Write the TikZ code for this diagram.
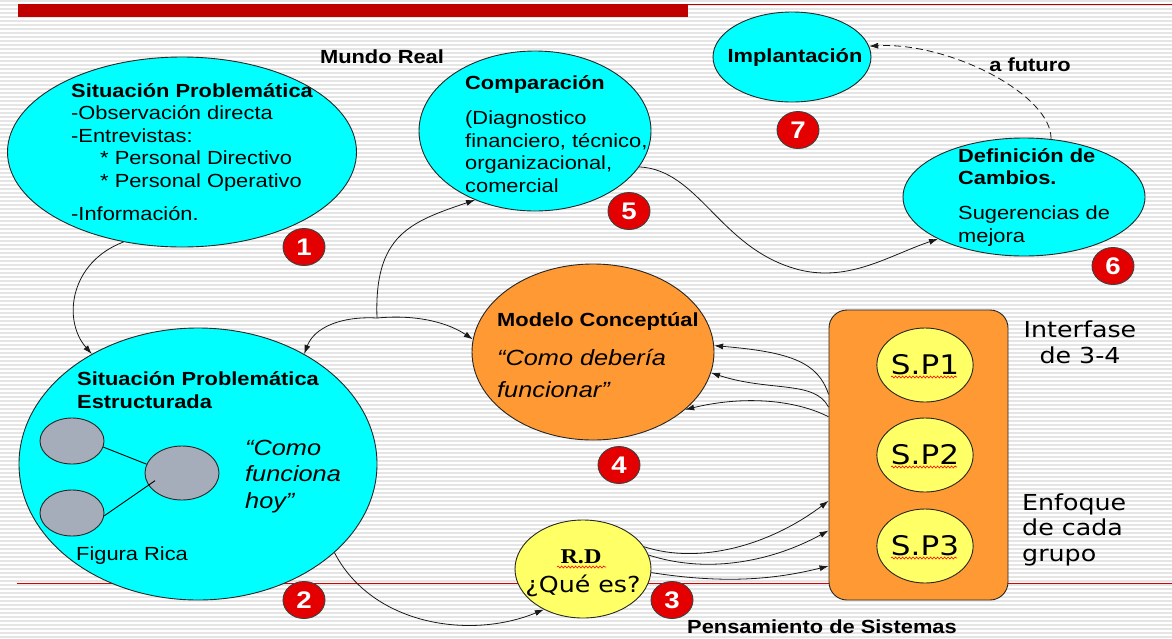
\documentclass[tikz,border=0pt]{standalone}
\usepackage{fontspec}
\setmainfont{Liberation Sans}[FakeStretch=1.15]
\newfontfamily\verdfont{DejaVu Sans}[FakeStretch=1.15]
\newfontfamily\romfont{Liberation Serif}[FakeStretch=1.15]
\usepackage{tikz}
\usetikzlibrary{shapes.geometric,arrows.meta,decorations.pathmorphing}

\definecolor{slidered}{RGB}{192,0,0}
\definecolor{aqua}{RGB}{0,255,255}
\definecolor{tangerine}{RGB}{255,153,51}
\definecolor{paleyellow}{RGB}{255,255,102}
\definecolor{slate}{RGB}{166,173,186}
\definecolor{ballred}{RGB}{228,0,0}

\begin{document}
\begin{tikzpicture}[x=1pt, y=-1pt, >={Latex[length=9pt,width=6pt]},
    blob/.style={ellipse, draw=black!85, line width=0.9pt, inner sep=0pt},
    num/.style={ellipse, draw=black!75, line width=0.9pt, fill=ballred, minimum width=42pt, minimum height=37pt, inner sep=0pt, text=white, font=\bfseries\fontsize{24}{24}\selectfont},
    body/.style={inner sep=0pt, align=left, font=\fontsize{19}{22.5}\selectfont},
    head/.style={inner sep=0pt, align=left, font=\bfseries\fontsize{19}{22.5}\selectfont},
    quote/.style={inner sep=0pt, align=left, font=\itshape\fontsize{22}{26.5}\selectfont},
    verd/.style={inner sep=0pt, align=left, font=\verdfont\fontsize{22}{25.5}\selectfont},
    link/.style={->, line width=0.8pt, black!90},
    spell/.style={decorate, decoration={snake, amplitude=1pt, segment length=3.5pt}, draw=red, line width=0.6pt}]
    \useasboundingbox (0,0) rectangle (1172,638);
    % lined paper and slide rules
    \fill[white] (0,0) rectangle (1172,638);
    \foreach \y in {1,5,...,637}
        \draw[gray!20, line width=1.2pt] (0,\y) -- (1172,\y);
    \fill[slidered] (18,4) rectangle (688,17);
    \draw[slidered, line width=1pt] (688,4.5) -- (1172,4.5);
    \draw[red!85!black, line width=0.8pt] (17,583) -- (1172,583);

    % stages
    \node[blob, fill=aqua, minimum width=349pt, minimum height=190pt] (prob) at (182,152) {};
    \node[blob, fill=aqua, minimum width=232pt, minimum height=160pt] (comp) at (535,131) {};
    \node[blob, fill=aqua, minimum width=158pt, minimum height=90pt] (impl) at (792,57) {};
    \node[blob, fill=aqua, minimum width=242pt, minimum height=118pt] (defc) at (1024,197) {};
    \node[blob, fill=tangerine, minimum width=242pt, minimum height=176pt] (model) at (593,352) {};
    \node[blob, fill=aqua, minimum width=358pt, minimum height=272pt] (estr) at (198,464) {};
    \node[blob, fill=paleyellow, minimum width=136pt, minimum height=98pt] (rd) at (583,569) {};
    \node[draw=black!85, line width=0.9pt, fill=tangerine, rounded corners=18pt, minimum width=179pt, minimum height=290pt] (grp) at (918.5,455) {};
    \foreach \k/\y in {1/365,2/455,3/546} {
        \node[blob, fill=paleyellow, minimum width=84pt, minimum height=74pt, font=\verdfont\fontsize{27}{27}\selectfont] (sp\k) at (925,\y) {S.P\k};
        \draw[spell] (891,\y+12) -- (957,\y+12);
    }

    % rich picture
    \node[blob, fill=slate, minimum width=64pt, minimum height=46pt] (g1) at (72,441) {};
    \node[blob, fill=slate, minimum width=64pt, minimum height=46pt] (g2) at (72,513) {};
    \node[blob, fill=slate, minimum width=74pt, minimum height=54pt] (g3) at (182,473) {};
    \draw[line width=0.9pt] (g1.349) -- (g3.166);
    \draw[line width=0.9pt, shorten >=-8pt] (g2.355) -- (g3.200);

    % connectors
    \coordinate (hub) at (377,318);
    \draw[link] (prob.237) .. controls (70,262) and (62,320) .. (estr.134);
    \draw[link] (hub) .. controls (374,235) and (410,222) .. (comp.229);
    \draw[link] (hub) .. controls (340,316) and (314,328) .. (estr.46);
    \draw[link] (hub) .. controls (420,314) and (450,324) .. (model.174);
    \draw[link] (comp.341) .. controls (700,170) and (720,250) .. (800,270) .. controls (850,282) and (890,255) .. (defc.206);
    \draw[link, dash pattern=on 7pt off 4pt] (defc.65) .. controls (1052,95) and (950,42) .. (impl.8);
    \draw[link] (estr.327) .. controls (372,625) and (470,640) .. (rd.226);
    \draw[link] (grp.146) .. controls (818,362) and (790,352) .. (model.3);
    \draw[link] (grp.152) .. controls (815,380) and (770,392) .. (model.350);
    \draw[link] (grp.157) .. controls (800,402) and (750,394) .. (model.328);
    \draw[link] (rd.20) .. controls (700,565) and (770,545) .. (grp.207);
    \draw[link] (rd.12) .. controls (710,575) and (775,560) .. (grp.220);
    \draw[link] (rd.357) .. controls (730,585) and (780,578) .. (grp.231);

    % step numbers
    \foreach \k/\x/\y in {1/304/247,2/304/600,3/672/600,4/619/465,5/629/211,6/1113/266,7/798/130}
        \node[num] (n\k) at (\x,\y) {\k};

    % texts (multi-line nodes sit on their last baseline)
    \node[head, anchor=base] (world) at (382,63) {Mundo Real};
    \node[body, anchor=base west] (probtxt) at (71,220) {\textbf{Situación Problemática}\\-Observación directa\\-Entrevistas:\\\hspace*{29pt}* Personal Directivo\\\hspace*{29pt}* Personal Operativo\\[10.5pt]-Información.};
    \node[body, anchor=base west] (comptxt) at (465,192) {\textbf{Comparación}\\[12.5pt](Diagnostico\\financiero, técnico,\\organizacional,\\comercial};
    \node[head, anchor=base] (impltxt) at (795,62) {Implantación};
    \node[head, anchor=base] (fut) at (1030,71) {a futuro};
    \node[body, anchor=base west] (defctxt) at (958,242) {\textbf{Definición de}\\\textbf{Cambios.}\\[12.5pt]Sugerencias de\\mejora};
    \node[head, anchor=base west] (modeltxt) at (497,326) {Modelo Conceptúal};
    \node[quote, anchor=base west] (modelq) at (497,397) {“Como debería\\[5.5pt]funcionar”};
    \node[body, anchor=base west] (estrtxt) at (77,408) {\textbf{Situación Problemática}\\\textbf{Estructurada}};
    \node[quote, anchor=base west] (estrq) at (245,508) {“Como\\funciona\\hoy”};
    \node[body, anchor=base west] (rica) at (76,560) {Figura Rica};
    \node[inner sep=0pt, font=\romfont\bfseries\fontsize{21}{21}\selectfont, anchor=base] (rdtop) at (581,563) {R.D};
    \draw[spell] (557,567) -- (606,567);
    \node[verd, anchor=base] (rdq) at (583,592) {¿Qué es?};
    \node[verd, anchor=base, align=center] (iface) at (1080,363) {Interfase\\de 3-4};
    \node[verd, anchor=base west] (focus) at (1022,561) {Enfoque\\de cada\\grupo};
    \node[head, anchor=base] (think) at (822,633) {Pensamiento de Sistemas};
\end{tikzpicture}
\end{document}
